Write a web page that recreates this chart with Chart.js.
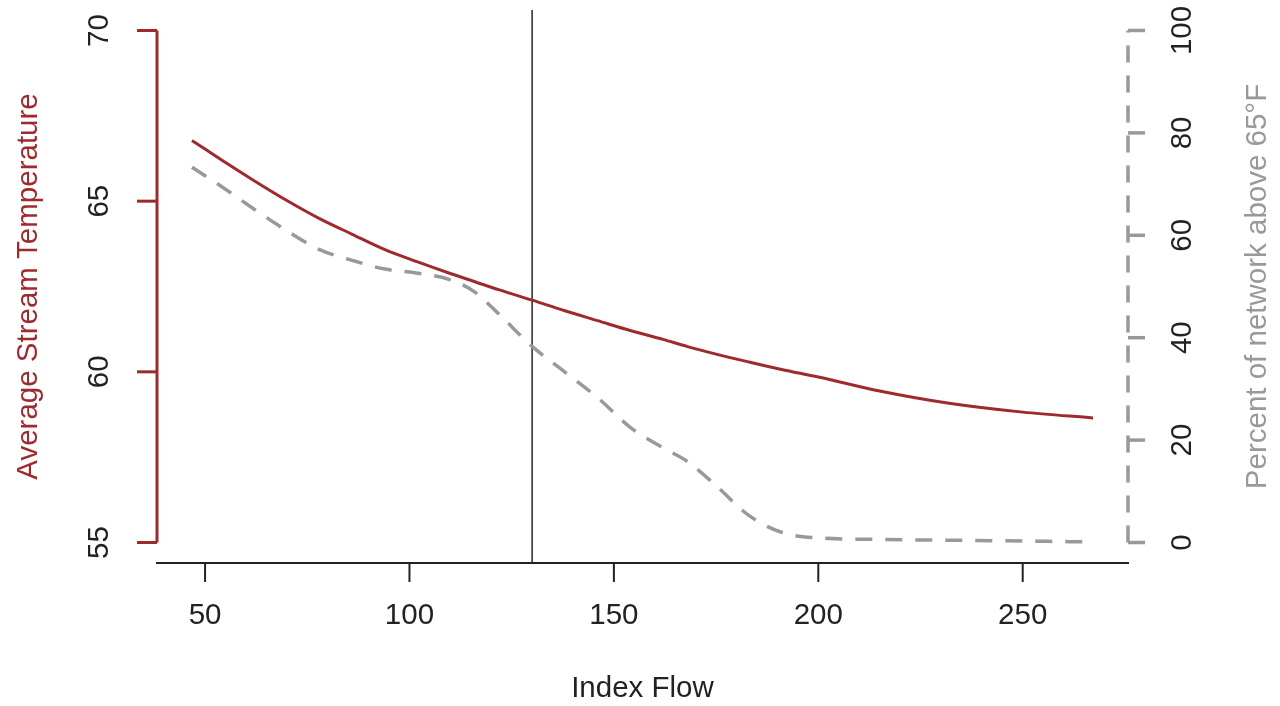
<!DOCTYPE html>
<html>
<head>
<meta charset="utf-8">
<script src="https://cdn.jsdelivr.net/npm/chart.js@4.4.0/dist/chart.umd.min.js"></script>
<style>
html,body{margin:0;padding:0;background:#fff;overflow:hidden}
canvas{display:block}
</style>
</head>
<body>
<canvas id="c" width="1280" height="706"></canvas>
<script>
// ---- data ----
const indexFlow  = [46.8, 55, 62, 70, 78, 86, 94, 102, 110, 116, 122, 130, 138, 146, 154, 162, 168, 175, 183, 191, 200, 215, 232, 250, 267.2];
const avgTemp    = [66.78, 66.13, 65.6, 65.02, 64.49, 64.03, 63.58, 63.22, 62.88, 62.64, 62.40, 62.10, 61.79, 61.50, 61.21, 60.95, 60.74, 60.52, 60.29, 60.07, 59.85, 59.44, 59.08, 58.82, 58.65];
const pctAbove65 = [73.3, 69.0, 65.1, 60.9, 57.2, 55.1, 53.4, 52.6, 51.3, 48.9, 44.5, 38.3, 33.3, 28.3, 22.5, 18.5, 15.8, 11.1, 5.3, 2.0, 0.9, 0.6, 0.45, 0.3, 0.1];
const xTicks     = [50, 100, 150, 200, 250];
const leftTicks  = [55, 60, 65, 70];
const rightTicks = [0, 20, 40, 60, 80, 100];
const markerFlow = 130;
const xTitle     = 'Index Flow';
const leftTitle  = 'Average Stream Temperature';
const rightTitle = 'Percent of network above 65\u00B0F';

const RED  = '#9f2a2d';
const GRAY = '#999999';
const INK  = '#222222';
const FONT = '29.5px "Liberation Sans", Arial, Helvetica, sans-serif';

const tempPoints = indexFlow.map((x, i) => ({x, y: avgTemp[i]}));
const pctPoints  = indexFlow.map((x, i) => ({x, y: pctAbove65[i]}));

const rAxesPlugin = {
  id: 'rAxes',
  beforeDatasetsDraw(chart) {
    const {ctx, chartArea: a, scales: {x}} = chart;
    const px = x.getPixelForValue(markerFlow);
    ctx.save();
    ctx.strokeStyle = '#333';
    ctx.lineWidth = 1.6;
    ctx.beginPath();
    ctx.moveTo(px, a.top);
    ctx.lineTo(px, a.bottom);
    ctx.stroke();
    ctx.restore();
  },
  afterDatasetsDraw(chart) {
    const {ctx, chartArea: a, scales: {x, yL, yR}} = chart;
    const seg = (x1, y1, x2, y2) => { ctx.beginPath(); ctx.moveTo(x1, y1); ctx.lineTo(x2, y2); ctx.stroke(); };
    const vtext = (t, cx, cy) => { ctx.save(); ctx.translate(cx, cy); ctx.rotate(-Math.PI / 2); ctx.fillText(t, 0, 0); ctx.restore(); };
    ctx.save();
    ctx.font = FONT;
    ctx.textAlign = 'center';
    ctx.textBaseline = 'middle';
    ctx.lineCap = 'butt';

    // bottom axis
    ctx.strokeStyle = INK;
    ctx.lineWidth = 2;
    seg(a.left, a.bottom, a.right, a.bottom);
    ctx.fillStyle = INK;
    xTicks.forEach(v => {
      const p = x.getPixelForValue(v);
      seg(p, a.bottom, p, a.bottom + 19);
      ctx.fillText(String(v), p, a.bottom + 53);
    });
    ctx.fillText(xTitle, (a.left + a.right) / 2, a.bottom + 126);

    // left axis (temperature)
    ctx.strokeStyle = RED;
    ctx.lineWidth = 3;
    const lTop = yL.getPixelForValue(leftTicks[leftTicks.length - 1]);
    const lBot = yL.getPixelForValue(leftTicks[0]);
    seg(a.left + 1, lBot, a.left + 1, lTop);
    leftTicks.forEach(v => {
      const p = yL.getPixelForValue(v);
      seg(a.left + 1, p, a.left - 19, p);
      ctx.fillStyle = INK;
      vtext(String(v), a.left - 56, p);
    });
    ctx.fillStyle = RED;
    vtext(leftTitle, a.left - 127, (a.top + a.bottom) / 2);

    // right axis (percent)
    ctx.strokeStyle = GRAY;
    ctx.lineWidth = 3.5;
    const rTop = yR.getPixelForValue(rightTicks[rightTicks.length - 1]);
    const rBot = yR.getPixelForValue(rightTicks[0]);
    ctx.setLineDash([17, 13]);
    seg(a.right - 1, rBot, a.right - 1, rTop);
    ctx.setLineDash([]);
    rightTicks.forEach(v => {
      const p = yR.getPixelForValue(v);
      seg(a.right - 1, p, a.right + 16, p);
      ctx.fillStyle = INK;
      vtext(String(v), a.right + 54, p);
    });
    ctx.fillStyle = GRAY;
    vtext(rightTitle, a.right + 129, (a.top + a.bottom) / 2);

    ctx.restore();
  }
};

new Chart(document.getElementById('c'), {
  type: 'line',
  data: {
    datasets: [
      {
        label: leftTitle,
        data: tempPoints,
        yAxisID: 'yL',
        borderColor: RED,
        borderWidth: 3,
        pointRadius: 0,
        fill: false,
        cubicInterpolationMode: 'monotone'
      },
      {
        label: rightTitle,
        data: pctPoints,
        yAxisID: 'yR',
        borderColor: GRAY,
        borderWidth: 3.5,
        borderDash: [17, 13],
        pointRadius: 0,
        fill: false,
        cubicInterpolationMode: 'monotone'
      }
    ]
  },
  options: {
    responsive: false,
    animation: false,
    devicePixelRatio: 1,
    layout: { padding: { left: 156, right: 151, top: 10, bottom: 143 } },
    plugins: { legend: { display: false }, tooltip: { enabled: false } },
    events: [],
    scales: {
      x:  { type: 'linear', min: 38, max: 276, display: false },
      yL: { type: 'linear', position: 'left', min: 54.4, max: 70.6, display: false },
      yR: { type: 'linear', position: 'right', min: -4, max: 104, display: false }
    }
  },
  plugins: [rAxesPlugin]
});
</script>
</body>
</html>
